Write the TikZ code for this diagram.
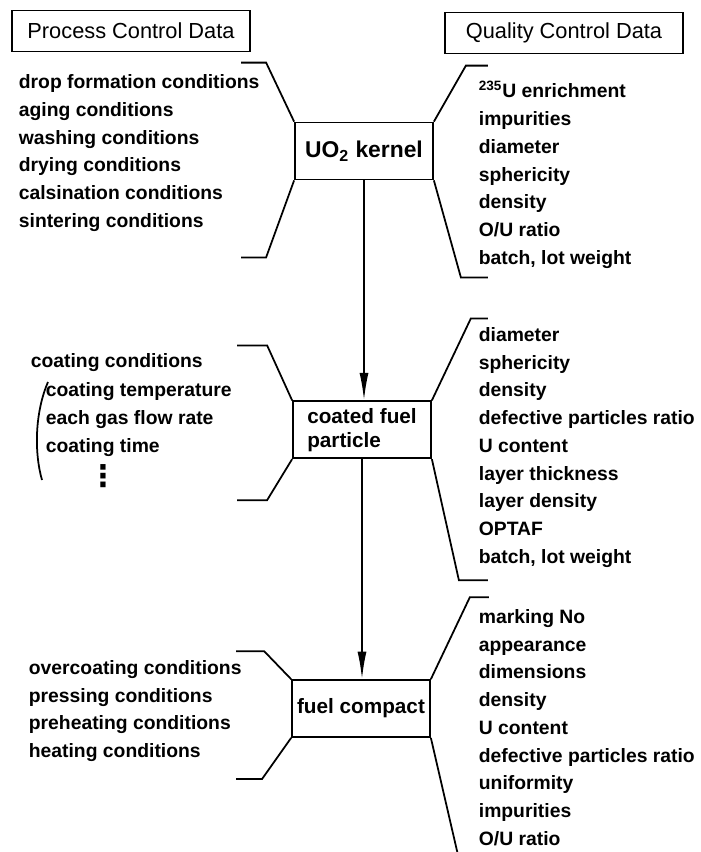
\documentclass[tikz,border=0pt]{standalone}
\usepackage{fontspec}
\setmainfont{Liberation Sans}
\newfontfamily\symfont{DejaVu Sans}
\usetikzlibrary{arrows.meta, positioning}

\begin{document}
\begin{tikzpicture}[
    x=0.2mm, y=-0.2mm,
    line width=1pt,
    node distance=44mm,
    head/.style={draw, minimum width=47.6mm, minimum height=8.2mm,
                 inner sep=0pt, font=\fontsize{12.4}{14}\selectfont},
    stage/.style={draw, minimum width=27.6mm, minimum height=11.4mm,
                  align=left, inner sep=2pt,
                  font=\fontsize{11.8}{13.8}\selectfont\bfseries},
    items/.style={anchor=west, align=left, inner sep=0pt,
                  font=\fontsize{11}{15.8}\selectfont\bfseries},
    arr/.style={-{Latex[length=5.5mm, width=1.8mm]}, line width=1pt},
]

\useasboundingbox (0,0) rectangle (701,852);

% ================================================================
%  Column heads
% ================================================================

\node[head] (pcd) at (131,31) {Process Control Data};
\node[head] (qcd) at (564,33) {Quality Control Data};

% ================================================================
%  Stages (centre)
% ================================================================

\node[stage, font=\fontsize{13}{15}\selectfont\bfseries] (kernel) at (364,151)
    {UO\textsubscript{2} kernel};
\node[stage, below=of kernel, xshift=-0.4mm] (particle) {coated fuel\\particle};
\node[stage, below=of particle, xshift=-0.2mm] (compact) {fuel compact};

\draw[arr] (kernel.south) -- (kernel.south |- particle.north);
\draw[arr] (particle.south) -- (particle.south |- compact.north);

% ================================================================
%  Kernel: process (left) + quality (right)
% ================================================================

\node[items] (kerproc) at (18,153)
    {drop formation conditions\\aging conditions\\washing conditions\\
     drying conditions\\calsination conditions\\sintering conditions};

\node[items] (kerqual) at (478,175)
    {\textsuperscript{235}U enrichment\\impurities\\diameter\\sphericity\\
     density\\O/U ratio\\batch, lot weight};

\draw (kernel.north west) -- ++(-28,-59) -- ++(-25,0);
\draw (kernel.south west) -- ++(-28,77) -- ++(-25,0);
\draw (kernel.north east) -- ++(32,-56) -- ++(22,0);
\draw (kernel.south east) -- ++(27,97) -- ++(27,0);

% ================================================================
%  Coated fuel particle
% ================================================================

\node[items] (parproc) at (30,363) {coating conditions};
\node[items] (parsub) at (45,419.5)
    {coating temperature\\each gas flow rate\\coating time};
\node[inner sep=0pt, font=\fontsize{17}{19}\symfont\bfseries] (pardots) at (103,476) {⋮};

% bracket round the coating sub-items
\draw (48,382) .. controls (35,412) and (34,452) .. (42,480);

\node[items] (parqual) at (478,447.5)
    {diameter\\sphericity\\density\\defective particles ratio\\U content\\
     layer thickness\\layer density\\OPTAF\\batch, lot weight};

\draw (particle.north west) -- ++(-25,-55) -- ++(-30,0);
\draw (particle.south west) -- ++(-25,41) -- ++(-30,0);
\draw (particle.north east) -- ++(39,-82) -- ++(17,0);
\draw (particle.south east) -- ++(27,121) -- ++(29,0);

% ================================================================
%  Fuel compact
% ================================================================

\node[items] (comproc) at (28,711)
    {overcoating conditions\\pressing conditions\\preheating conditions\\
     heating conditions};

\node[items] (comqual) at (478,727.5)
    {marking No\\appearance\\dimensions\\density\\U content\\
     defective particles ratio\\uniformity\\impurities\\O/U ratio};

\draw (compact.north west) -- ++(-27,-28) -- ++(-28,0);
\draw (compact.south west) -- ++(-29,41) -- ++(-26,0);
\draw (compact.north east) -- ++(39,-82) -- ++(19,0);
\draw (compact.south east) -- ++(28,121);

\end{tikzpicture}
\end{document}
